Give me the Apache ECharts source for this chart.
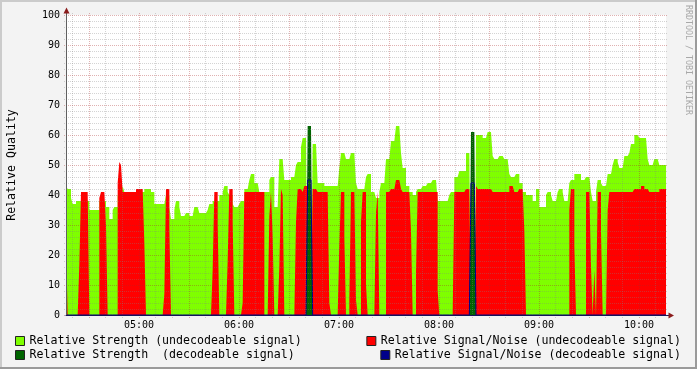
<!DOCTYPE html>
<html>
<head>
<meta charset="utf-8">
<script src="https://cdn.jsdelivr.net/npm/echarts@6/dist/echarts.min.js"></script>
<style>
html,body{margin:0;padding:0;background:#f3f3f3;}
#chart{width:697px;height:369px;}
</style>
</head>
<body>
<div id="chart"></div>
<script>
// Time origin of the data (minutes since midnight, 04:16:12), one value per minute
const startMinute = 256.2;
const stepMinutes = 1;

// Relative Strength (undecodeable signal)
const strengthUndecodeable = [
43,42,42,39,37,37,38,38,38,38,
38,38,38,38,35,35,35,35,35,35,
38,38,38,38,36,36,32,32,35,36,
36,40,40,40,43,41,41,41,41,41,
41,41,41,41,41,41,41,42,42,42,
42,41,41,37,37,37,37,37,37,37,
40,40,36,32,32,35,38,38,36,33,
33,33,34,34,33,33,33,36,36,36,
34,34,34,34,34,35,37,37,38,38,
38,38,40,40,41,43,43,41,40,40,
37,36,36,36,37,38,38,42,42,42,
45,47,47,44,44,44,41,41,41,41,
41,41,45,46,46,36,36,36,52,52,
52,45,45,45,45,46,46,46,50,51,
51,56,59,59,61,0,0,0,57,57,
57,44,44,44,44,43,43,43,43,43,
43,43,43,43,49,54,54,54,52,52,
52,54,54,54,44,42,42,42,42,42,
46,47,47,41,41,41,39,39,41,44,
44,44,52,52,52,58,58,58,63,63,
63,54,49,49,43,43,41,41,40,40,
41,42,42,42,43,43,43,44,44,44,
45,45,45,38,38,38,38,38,38,38,
40,41,41,46,46,46,48,48,48,48,
54,54,54,0,0,0,60,60,60,60,
59,59,59,61,61,61,53,52,52,52,
53,53,53,52,52,52,47,46,46,46,
47,47,44,44,41,41,40,40,40,40,
38,38,42,42,36,36,36,36,40,41,
41,40,38,38,38,41,42,42,41,38,
38,38,44,45,45,47,47,47,47,45,
45,45,46,46,46,41,38,38,41,45,
45,44,43,43,43,47,47,47,50,52,
52,51,49,49,49,53,53,53,54,57,
57,60,60,60,59,59,59,59,59,52,
50,50,50,52,52,52,50,50,50,50
];

// Relative Signal/Noise (undecodeable signal)
const snUndecodeable = [
25,0,0,0,0,0,0,0,17,41,
41,41,41,41,0,0,0,0,0,0,
39,41,41,41,30,0,0,0,0,0,
0,44,51,50,41,41,41,41,41,41,
41,41,42,42,42,42,42,24,0,0,
0,0,0,0,0,0,0,0,0,7,
42,42,29,0,0,0,0,0,0,0,
0,0,0,0,0,0,0,0,0,0,
0,0,0,0,0,0,0,0,15,41,
41,30,0,0,0,0,0,18,42,42,
31,0,0,0,0,0,4,41,41,41,
41,41,41,41,41,41,41,41,41,0,
0,0,33,41,26,0,0,0,16,42,
40,0,0,0,0,0,0,0,31,42,
42,42,41,43,43,0,0,0,42,42,
42,41,41,41,41,41,41,41,4,0,
0,0,0,0,23,41,41,26,0,0,
5,41,41,41,5,0,0,31,41,41,
10,0,0,0,0,0,34,41,0,0,
0,0,41,41,41,42,42,42,45,45,
45,42,41,41,41,41,41,28,0,0,
14,41,41,41,41,41,41,41,41,41,
41,41,41,8,0,0,0,0,0,0,
0,0,0,41,41,41,41,41,41,41,
42,42,42,0,0,0,43,42,42,42,
42,42,42,42,42,42,41,41,41,41,
41,41,41,41,41,41,43,43,43,41,
41,41,42,42,42,28,0,0,0,0,
0,0,0,0,0,0,0,0,0,0,
0,0,0,0,0,0,0,0,0,0,
0,0,35,42,42,23,0,0,0,0,
0,0,41,41,41,16,0,15,0,41,
41,28,0,0,0,35,41,41,41,41,
41,41,41,41,41,41,41,41,41,41,
41,42,42,42,42,43,43,42,42,42,
41,41,41,41,41,41,42,42,42,42
];

// Relative Strength (decodeable signal)
const strengthDecodeable = [
0,0,0,0,0,0,0,0,0,0, 0,0,0,0,0,0,0,0,0,0, 0,0,0,0,0,0,0,0,0,0,
0,0,0,0,0,0,0,0,0,0, 0,0,0,0,0,0,0,0,0,0, 0,0,0,0,0,0,0,0,0,0,
0,0,0,0,0,0,0,0,0,0, 0,0,0,0,0,0,0,0,0,0, 0,0,0,0,0,0,0,0,0,0,
0,0,0,0,0,0,0,0,0,0, 0,0,0,0,0,0,0,0,0,0, 0,0,0,0,0,0,0,0,0,0,
0,0,0,0,0,0,0,0,0,0, 0,0,0,0,0,0,0,0,0,0,
0,0,0,0,0,63,63,63,0,0,
0,0,0,0,0,0,0,0,0,0, 0,0,0,0,0,0,0,0,0,0, 0,0,0,0,0,0,0,0,0,0,
0,0,0,0,0,0,0,0,0,0, 0,0,0,0,0,0,0,0,0,0, 0,0,0,0,0,0,0,0,0,0,
0,0,0,0,0,0,0,0,0,0, 0,0,0,0,0,0,0,0,0,0, 0,0,0,0,0,0,0,0,0,0,
0,0,0,61,61,61,0,0,0,0,
0,0,0,0,0,0,0,0,0,0, 0,0,0,0,0,0,0,0,0,0, 0,0,0,0,0,0,0,0,0,0,
0,0,0,0,0,0,0,0,0,0, 0,0,0,0,0,0,0,0,0,0, 0,0,0,0,0,0,0,0,0,0,
0,0,0,0,0,0,0,0,0,0, 0,0,0,0,0,0,0,0,0,0, 0,0,0,0,0,0,0,0,0,0,
0,0,0,0,0,0,0,0,0,0, 0,0,0,0,0,0,0,0,0,0
];

// Relative Signal/Noise (decodeable signal)
const snDecodeable = [
0,0,0,0,0,0,0,0,0,0, 0,0,0,0,0,0,0,0,0,0, 0,0,0,0,0,0,0,0,0,0,
0,0,0,0,0,0,0,0,0,0, 0,0,0,0,0,0,0,0,0,0, 0,0,0,0,0,0,0,0,0,0,
0,0,0,0,0,0,0,0,0,0, 0,0,0,0,0,0,0,0,0,0, 0,0,0,0,0,0,0,0,0,0,
0,0,0,0,0,0,0,0,0,0, 0,0,0,0,0,0,0,0,0,0, 0,0,0,0,0,0,0,0,0,0,
0,0,0,0,0,0,0,0,0,0, 0,0,0,0,0,0,0,0,0,0,
0,0,0,0,0,45,45,45,0,0,
0,0,0,0,0,0,0,0,0,0, 0,0,0,0,0,0,0,0,0,0, 0,0,0,0,0,0,0,0,0,0,
0,0,0,0,0,0,0,0,0,0, 0,0,0,0,0,0,0,0,0,0, 0,0,0,0,0,0,0,0,0,0,
0,0,0,0,0,0,0,0,0,0, 0,0,0,0,0,0,0,0,0,0, 0,0,0,0,0,0,0,0,0,0,
0,0,0,44,44,44,0,0,0,0,
0,0,0,0,0,0,0,0,0,0, 0,0,0,0,0,0,0,0,0,0, 0,0,0,0,0,0,0,0,0,0,
0,0,0,0,0,0,0,0,0,0, 0,0,0,0,0,0,0,0,0,0, 0,0,0,0,0,0,0,0,0,0,
0,0,0,0,0,0,0,0,0,0, 0,0,0,0,0,0,0,0,0,0, 0,0,0,0,0,0,0,0,0,0,
0,0,0,0,0,0,0,0,0,0, 0,0,0,0,0,0,0,0,0,0
];

// Axis ticks (minutes since midnight)
const hourTicks = [300, 360, 420, 480, 540, 600];
const hourLabels = ['05:00', '06:00', '07:00', '08:00', '09:00', '10:00'];
// vertical grid-line sets: [origin minute, span, interval] (first and last lines fall outside and are hidden)
const vMajorSet = [240, 390, 30];          // every :00 and :30
const vMinorSets = [[250, 390, 30], [230, 390, 30]]; // :10/:40 and :20/:50
// horizontal grid-line sets: [origin value, span, interval]
const hMajorSet = [-10, 120, 10];          // 0,10,...,100
const hMinorSets = [[-8, 110, 10], [-6, 110, 10], [-4, 110, 10], [-2, 110, 10]];

const seriesNames = [
  'Relative Strength (undecodeable signal)',
  'Relative Signal/Noise (undecodeable signal)',
  'Relative Strength  (decodeable signal)',
  'Relative Signal/Noise (decodeable signal)'
];

const FONT = 'DejaVu Sans Mono';
const minorGrid = 'rgba(128,128,128,0.34)';
const majorGrid = 'rgba(170,40,40,0.36)';
const endMinute = startMinute + strengthUndecodeable.length * stepMinutes;

// plot geometry
const PLOT_LEFT = 66, PLOT_TOP = 15, PLOT_W = 600, PLOT_H = 300;
const pxPerMin = PLOT_W / (endMinute - startMinute);
const pxPerUnit = PLOT_H / 100;

function toSteps(vals) {
  const pts = vals.map((v, i) => [startMinute + i * stepMinutes, v]);
  pts.push([startMinute + vals.length * stepMinutes, vals[vals.length - 1]]);
  return pts;
}

const grids = [
  {left: PLOT_LEFT, top: PLOT_TOP, width: PLOT_W, height: PLOT_H, show: true, backgroundColor: '#ffffff', borderWidth: 0, containLabel: false, outerBoundsMode: 'none'}
];
const xAxes = [
  {
    type: 'value', gridIndex: 0, min: startMinute, max: endMinute, position: 'bottom', z: 12,
    axisLine: {show: true, onZero: false, lineStyle: {color: '#14145a', width: 1}},
    axisTick: {show: false},
    splitLine: {show: false},
    axisLabel: {
      show: true, customValues: hourTicks, margin: 5,
      fontFamily: FONT, fontSize: 10, color: '#000',
      formatter: v => hourLabels[hourTicks.indexOf(Math.round(v))] || ''
    }
  }
];
const yAxes = [
  {
    type: 'value', gridIndex: 0, min: 0, max: 100, interval: 10, z: 12, position: 'left',
    name: 'Relative Quality', nameLocation: 'middle', nameGap: 48,
    nameTextStyle: {fontFamily: FONT, fontSize: 11.6, color: '#000'},
    axisLine: {show: true, onZero: false, lineStyle: {color: '#606060', width: 1}},
    axisTick: {show: false},
    axisLabel: {margin: 6, fontFamily: FONT, fontSize: 10, color: '#000'},
    splitLine: {show: false}
  }
];

function gridLineStyle(color) {
  return {show: true, showMinLine: false, showMaxLine: false, lineStyle: {color: color, type: [1, 1], width: 1}};
}
const hidden = {axisLine: {show: false}, axisTick: {show: false}, axisLabel: {show: false}};

function addVertical(set, color, z) {
  grids.push({
    left: PLOT_LEFT + (set[0] - startMinute) * pxPerMin, width: set[1] * pxPerMin,
    top: PLOT_TOP - 2, height: PLOT_H + 5, show: false, containLabel: false, outerBoundsMode: 'none'
  });
  const gi = grids.length - 1;
  xAxes.push(Object.assign({type: 'value', gridIndex: gi, min: 0, max: set[1], interval: set[2], z: z, splitLine: gridLineStyle(color)}, hidden));
  yAxes.push({type: 'value', gridIndex: gi, min: 0, max: 100, show: false});
}
function addHorizontal(set, color, z) {
  grids.push({
    left: PLOT_LEFT - 2, width: PLOT_W + 4,
    top: PLOT_TOP + (100 - (set[0] + set[1])) * pxPerUnit, height: set[1] * pxPerUnit,
    show: false, containLabel: false, outerBoundsMode: 'none'
  });
  const gi = grids.length - 1;
  xAxes.push({type: 'value', gridIndex: gi, min: 0, max: 1, show: false});
  yAxes.push(Object.assign({type: 'value', gridIndex: gi, min: 0, max: set[1], interval: set[2], z: z, splitLine: gridLineStyle(color)}, hidden));
}
vMinorSets.forEach(s => addVertical(s, minorGrid, 10));
hMinorSets.forEach(s => addHorizontal(s, minorGrid, 10));
addVertical(vMajorSet, majorGrid, 11);
addHorizontal(hMajorSet, majorGrid, 11);

const chart = echarts.init(document.getElementById('chart'), null, {renderer: 'canvas'});

function legendFor(name, pos) {
  return Object.assign({
    data: [name],
    icon: 'rect',
    itemWidth: 9,
    itemHeight: 9,
    padding: 0,
    selectedMode: false,
    itemStyle: {borderColor: '#222', borderWidth: 1},
    textStyle: {fontFamily: FONT, fontSize: 11.6, color: '#000'}
  }, pos);
}

chart.setOption({
  animation: false,
  backgroundColor: '#f3f3f3',
  textStyle: {fontFamily: FONT},
  grid: grids,
  legend: [
    legendFor(seriesNames[0], {left: 15, top: 335}),
    legendFor(seriesNames[1], {right: 16, top: 335}),
    legendFor(seriesNames[2], {left: 15, top: 349}),
    legendFor(seriesNames[3], {right: 16, top: 349})
  ],
  xAxis: xAxes,
  yAxis: yAxes,
  series: [
    {
      name: seriesNames[0], type: 'line', step: 'end', xAxisIndex: 0, yAxisIndex: 0,
      data: toSteps(strengthUndecodeable), symbol: 'none', color: '#7fff00', z: 2, silent: true,
      lineStyle: {width: 0}, areaStyle: {color: '#7fff00', opacity: 1}
    },
    {
      name: seriesNames[1], type: 'line', step: 'end', xAxisIndex: 0, yAxisIndex: 0,
      data: toSteps(snUndecodeable), symbol: 'none', color: '#ff0000', z: 3, silent: true,
      lineStyle: {width: 0}, areaStyle: {color: '#ff0000', opacity: 1}
    },
    {
      name: seriesNames[2], type: 'line', step: 'end', xAxisIndex: 0, yAxisIndex: 0,
      data: toSteps(strengthDecodeable), symbol: 'none', color: '#006400', z: 4, silent: true,
      lineStyle: {width: 0}, areaStyle: {color: '#006400', opacity: 1}
    },
    {
      name: seriesNames[3], type: 'line', step: 'end', xAxisIndex: 0, yAxisIndex: 0,
      data: toSteps(snDecodeable), symbol: 'none', color: '#00008b', z: 5, silent: true,
      lineStyle: {width: 1, color: '#00008b'}
    }
  ],
  graphic: [
    {type: 'rect', shape: {x: 0, y: 0, width: 697, height: 2}, style: {fill: '#cbcbcb'}, silent: true},
    {type: 'rect', shape: {x: 0, y: 0, width: 2, height: 369}, style: {fill: '#cbcbcb'}, silent: true},
    {type: 'rect', shape: {x: 695, y: 0, width: 2, height: 369}, style: {fill: '#9a9a9a'}, silent: true},
    {type: 'rect', shape: {x: 0, y: 367, width: 697, height: 2}, style: {fill: '#9a9a9a'}, silent: true},
    {type: 'line', shape: {x1: 66.5, y1: 10, x2: 66.5, y2: 15}, style: {stroke: '#606060', lineWidth: 1}, silent: true},
    {type: 'polygon', shape: {points: [[63.5, 13.5], [69.5, 13.5], [66.5, 7.5]]}, style: {fill: '#8b1c1c'}, silent: true},
    {type: 'line', shape: {x1: 666, y1: 315.5, x2: 669, y2: 315.5}, style: {stroke: '#14145a', lineWidth: 1}, silent: true},
    {type: 'polygon', shape: {points: [[668.5, 312.5], [668.5, 318.5], [674, 315.5]]}, style: {fill: '#8b1c1c'}, silent: true},
    {
      type: 'text', x: 688, y: 5, rotation: -Math.PI / 2, silent: true,
      style: {text: 'RRDTOOL / TOBI OETIKER', fontFamily: FONT, fontSize: 8.3, fill: '#a8a8a8', textAlign: 'left', textVerticalAlign: 'middle'}
    }
  ]
});
</script>
</body>
</html>
